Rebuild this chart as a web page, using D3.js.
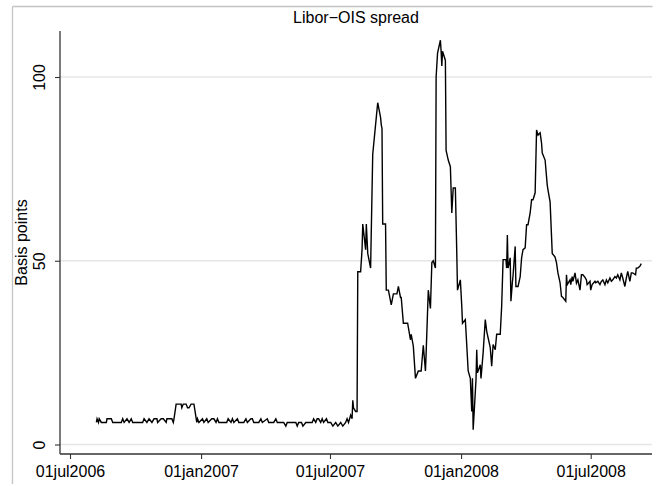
<!DOCTYPE html>
<html>
<head>
<meta charset="utf-8">
<script src="https://cdn.jsdelivr.net/npm/d3@7"></script>
<style>
  html, body { margin: 0; padding: 0; background: #fff; }
  svg { display: block; font-family: "Liberation Sans", Arial, Helvetica, sans-serif; }
</style>
</head>
<body>
<svg id="chart" width="663" height="486"></svg>
<script>
// Libor-OIS spread, daily observations (basis points)
const dates = [
  "2006-08-07","2006-08-08","2006-08-10","2006-08-11","2006-08-14","2006-08-21","2006-08-22","2006-08-28","2006-08-30",
  "2006-09-11","2006-09-13","2006-09-15","2006-09-19","2006-09-22","2006-09-25","2006-09-27",
  "2006-10-11","2006-10-13","2006-10-17","2006-10-20","2006-10-24","2006-10-27","2006-10-31",
  "2006-11-01","2006-11-06","2006-11-09","2006-11-13","2006-11-14","2006-11-21","2006-11-23","2006-11-24","2006-11-27",
  "2006-12-04","2006-12-05","2006-12-07","2006-12-11","2006-12-13","2006-12-15","2006-12-18","2006-12-22","2006-12-26","2006-12-27","2006-12-29",
  "2007-01-03","2007-01-05","2007-01-09","2007-01-11","2007-01-16","2007-01-19","2007-01-22","2007-01-24","2007-01-26",
  "2007-02-06","2007-02-08","2007-02-12","2007-02-14","2007-02-16","2007-02-21","2007-02-23",
  "2007-03-02","2007-03-05","2007-03-07","2007-03-12","2007-03-14","2007-03-16","2007-03-23","2007-03-26","2007-03-28",
  "2007-04-04","2007-04-06","2007-04-13","2007-04-16","2007-04-18","2007-04-27","2007-04-30",
  "2007-05-02","2007-05-14","2007-05-16","2007-05-18","2007-05-22","2007-05-24","2007-05-28",
  "2007-06-06","2007-06-08","2007-06-11","2007-06-13","2007-06-15","2007-06-18","2007-06-20","2007-06-22","2007-06-26","2007-06-28",
  "2007-07-02","2007-07-05","2007-07-09","2007-07-12","2007-07-16","2007-07-19","2007-07-23","2007-07-25","2007-07-27","2007-07-30",
  "2007-08-01","2007-08-02","2007-08-03","2007-08-06","2007-08-08","2007-08-09","2007-08-13","2007-08-15","2007-08-16","2007-08-20",
  "2007-08-21","2007-08-23","2007-08-27","2007-08-30",
  "2007-09-04","2007-09-06","2007-09-10","2007-09-11","2007-09-12","2007-09-13","2007-09-17","2007-09-18","2007-09-21","2007-09-25","2007-09-28",
  "2007-10-03","2007-10-05","2007-10-08","2007-10-09","2007-10-12","2007-10-18","2007-10-22","2007-10-23","2007-10-26","2007-10-29",
  "2007-11-02","2007-11-06","2007-11-09","2007-11-12","2007-11-13","2007-11-16","2007-11-19","2007-11-21","2007-11-23","2007-11-26","2007-11-27","2007-11-29",
  "2007-12-03","2007-12-04","2007-12-05","2007-12-06","2007-12-10","2007-12-11","2007-12-14","2007-12-17","2007-12-19","2007-12-21","2007-12-24","2007-12-26","2007-12-27","2007-12-31",
  "2008-01-02","2008-01-03","2008-01-07","2008-01-11","2008-01-14","2008-01-16","2008-01-17","2008-01-18","2008-01-22","2008-01-23","2008-01-24","2008-01-28","2008-01-29",
  "2008-02-01","2008-02-04","2008-02-06","2008-02-11","2008-02-13","2008-02-15","2008-02-18","2008-02-20","2008-02-25","2008-02-27","2008-02-29",
  "2008-03-04","2008-03-05","2008-03-06","2008-03-07","2008-03-10","2008-03-11","2008-03-13","2008-03-14","2008-03-17","2008-03-18","2008-03-21","2008-03-24","2008-03-26","2008-03-28","2008-03-31",
  "2008-04-02","2008-04-04","2008-04-07","2008-04-09","2008-04-11","2008-04-14","2008-04-16","2008-04-18","2008-04-21","2008-04-23","2008-04-24","2008-04-28",
  "2008-05-01","2008-05-02","2008-05-05","2008-05-08","2008-05-12","2008-05-14","2008-05-16","2008-05-19","2008-05-21","2008-05-23","2008-05-27","2008-05-28","2008-05-29",
  "2008-06-02","2008-06-03","2008-06-05","2008-06-06","2008-06-09","2008-06-11","2008-06-13","2008-06-16","2008-06-18","2008-06-20","2008-06-23","2008-06-25","2008-06-26","2008-06-30",
  "2008-07-01","2008-07-03","2008-07-07","2008-07-08","2008-07-11","2008-07-14","2008-07-16","2008-07-18","2008-07-21","2008-07-23","2008-07-25","2008-07-28","2008-07-30",
  "2008-08-01","2008-08-04","2008-08-06","2008-08-08","2008-08-11","2008-08-13","2008-08-15","2008-08-18","2008-08-20","2008-08-22","2008-08-25","2008-08-27","2008-08-29",
  "2008-09-02","2008-09-03","2008-09-05","2008-09-08","2008-09-10"
];

const spread = [
  6,7,6,7,6,6,7,7,6,
  6,7,6,7,6,7,6,
  6,7,6,7,6,7,7,
  6,7,7,6,7,7,6,7,11,
  11,10,11,11,10,10,11,11,6,7,6,
  7,6,7,6,7,7,6,7,6,
  6,7,6,7,6,7,6,
  6,7,6,7,7,6,6,7,6,
  7,6,6,7,6,6,5,
  6,6,5,6,6,5,6,
  6,7,6,7,7,6,7,6,7,6,
  6,5,6,5,6,5,6,7,6,8,
  7,12,10,9,9,47,47,53,60,53,
  60,52,48,79,
  89,93,89,87,86,60,60,42,42,38,41,
  41,43,40,40,33,33,28.5,30,26.7,18,
  20,20,27,20,25,42,37,49.5,50,48,100,106.5,
  110,107,103,107,104.5,80,77.4,75.6,63,69.8,69.8,52,42,44.8,
  37.6,33,34,20,18,9,18,4,17.7,25.8,19.5,21.7,18,
  25,34,30.8,26.4,21.3,27.2,25.8,30,30,37.6,50.3,
  50.3,48,57,48,50.8,39,44,46,53.9,43,43,45.7,50.8,53,53.5,
  59.8,59.8,63,66.6,66.6,68.5,85.6,84.2,84.8,82,79.3,77.4,
  70.6,69.3,66,52,51,49.4,46.7,44,40.3,40,39,46.2,43.5,
  44.8,43.5,45.7,44.4,46.7,43.9,44.8,42,46.2,46.2,45.5,44.8,43.5,44.4,
  42,43.5,44.4,44,44.4,43.5,44.4,44.8,43.5,44.8,44,45.3,44.4,
  44.8,45.7,45.3,46.2,44.8,46.7,45.3,43,45.3,47.1,44.4,46.7,46.7,
  46.2,48,48,48.5,49.2
];

const xTickDates = ["2006-07-01","2007-01-01","2007-07-01","2008-01-01","2008-07-01"];
const yTickValues = [0, 50, 100];
const chartTitle = "Libor\u2212OIS spread";
const yAxisTitle = "Basis points";

const parse = d3.utcParse("%Y-%m-%d");
const series = dates.map((d, i) => ({ date: parse(d), value: spread[i] }));

const svg = d3.select("#chart");

// plot region
const plot = { left: 60, right: 652, top: 31, bottom: 454 };

const x = d3.scaleUtc()
  .domain([parse(xTickDates[0]), parse(xTickDates[4])])
  .range([70, 590.7]);
const y = d3.scaleLinear().domain([0, 100]).range([444.5, 77]);

// outer graph frame (top and left edges)
svg.append("line").attr("x1", 12.5).attr("x2", 652.5).attr("y1", 6.5).attr("y2", 6.5)
  .attr("stroke", "#c4c4c4").attr("stroke-width", 1.3);
svg.append("line").attr("x1", 12.5).attr("x2", 12.5).attr("y1", 6.5).attr("y2", 484)
  .attr("stroke", "#c4c4c4").attr("stroke-width", 1.3);

// horizontal gridlines
svg.append("g").selectAll("line").data(yTickValues).join("line")
  .attr("x1", plot.left).attr("x2", plot.right)
  .attr("y1", d => y(d)).attr("y2", d => y(d))
  .attr("stroke", "#e6e6e6").attr("stroke-width", 1.3);

// x axis
const fmt = d3.utcFormat("%d%b%Y");
const xAxis = d3.axisBottom(x)
  .tickValues(xTickDates.map(parse))
  .tickSize(5)
  .tickPadding(6)
  .tickFormat(d => fmt(d).toLowerCase());
const gx = svg.append("g").attr("transform", `translate(0,${plot.bottom})`).call(xAxis);
gx.select(".domain").remove();
gx.selectAll(".tick line").attr("stroke", "#333").attr("stroke-width", 1.1);
gx.selectAll(".tick text").attr("fill", "#000").style("font-size", "16px")
  .attr("dy", null).attr("y", 23);
svg.append("line").attr("x1", plot.left).attr("x2", plot.right)
  .attr("y1", plot.bottom).attr("y2", plot.bottom)
  .attr("stroke", "#333").attr("stroke-width", 1.3);

// y axis
const yAxis = d3.axisLeft(y).tickValues(yTickValues).tickSize(5);
const gy = svg.append("g").attr("transform", `translate(${plot.left},0)`).call(yAxis);
gy.select(".domain").remove();
gy.selectAll(".tick line").attr("stroke", "#333").attr("stroke-width", 1.1);
gy.selectAll(".tick text")
  .attr("fill", "#000").style("font-size", "16px")
  .attr("x", null).attr("dy", null)
  .attr("text-anchor", "middle")
  .attr("transform", "translate(-15.5,0) rotate(-90)");
svg.append("line").attr("x1", plot.left).attr("x2", plot.left)
  .attr("y1", plot.top).attr("y2", plot.bottom)
  .attr("stroke", "#333").attr("stroke-width", 1.3);

// y axis title
svg.append("text")
  .attr("transform", `translate(27,${(plot.top + plot.bottom) / 2}) rotate(-90)`)
  .attr("text-anchor", "middle")
  .style("font-size", "16px")
  .text(yAxisTitle);

// chart title
svg.append("text")
  .attr("x", (plot.left + plot.right) / 2)
  .attr("y", 23)
  .attr("text-anchor", "middle")
  .style("font-size", "16px")
  .text(chartTitle);

// spread line
const line = d3.line().x(d => x(d.date)).y(d => y(d.value));
svg.append("path")
  .datum(series)
  .attr("fill", "none")
  .attr("stroke", "#000")
  .attr("stroke-width", 1.4)
  .attr("stroke-linejoin", "miter")
  .attr("d", line);
</script>
</body>
</html>
